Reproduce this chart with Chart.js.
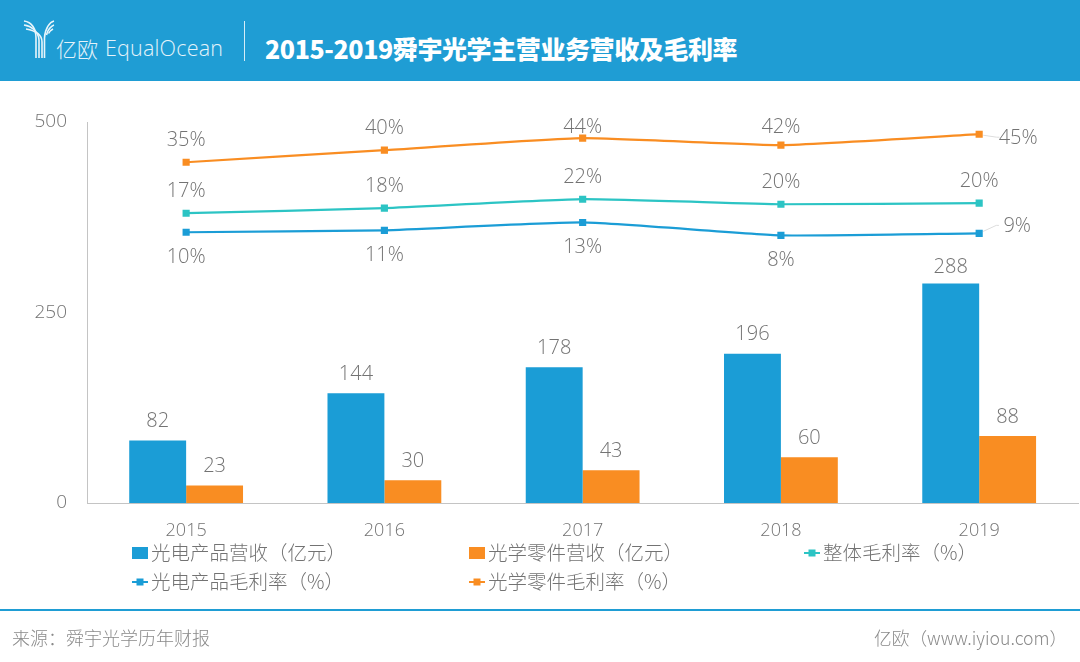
<!DOCTYPE html>
<html>
<head>
<meta charset="utf-8">
<script src="https://cdn.jsdelivr.net/npm/chart.js@4/dist/chart.umd.min.js"></script>
<style>
  html, body { margin: 0; padding: 0; background: #fff; overflow: hidden; }
  #page { position: relative; width: 1080px; height: 662px; overflow: hidden; font-family: "Open Sans", "Noto Sans CJK SC", sans-serif; }
  #band { position: absolute; left: 0; top: 0; width: 1080px; height: 81px; background: #1f9dd4; }
  #logo { position: absolute; left: 0; top: 0; }
  #brand-cn { position: absolute; left: 56px; top: 33px; font: 300 21px/30px "Noto Sans CJK SC"; color: #e4f3fa; }
  #brand-en { position: absolute; left: 105px; top: 32px; font: 300 21.5px/32px "Open Sans"; color: #e4f3fa; letter-spacing: 0.2px; }
  #divider { position: absolute; left: 244px; top: 21px; width: 1px; height: 40px; background: #d5edf8; }
  #title { position: absolute; left: 265px; top: 31px; font: 900 25px/34px "Noto Sans CJK SC"; letter-spacing: -0.4px; color: #fff; white-space: nowrap; }
  #rule { position: absolute; left: 0; top: 609px; width: 1080px; height: 2px; background: #1f9dd4; }
  #source { position: absolute; left: 12px; top: 625px; font: 300 18px/24px "Noto Sans CJK SC"; color: #8a8a8a; }
  #credit { position: absolute; left: 874px; top: 625px; font: 300 17.7px/24px "Noto Sans CJK SC"; color: #8a8a8a; white-space: nowrap; }
  canvas { position: absolute; left: 0; top: 0; }
</style>
</head>
<body>
<div id="page">
  <canvas id="chart" width="1084" height="662"></canvas>
  <div id="band"></div>
  <svg id="logo" width="60" height="81" fill="none" stroke="#e8f5fb" stroke-width="1.6">
    <path d="M24 21 C32 22 36 29 36 38 L36 58"/>
    <path d="M24 25 C31 26 38.5 31 39 40 L39 58"/>
    <path d="M26 29 C32 30 42 33 42 42 L42 58"/>
    <path d="M54 21 C50 22 45 28 44.5 38 L44.5 58"/>
    <path d="M54 25 C51 26 47.5 30 46.5 35"/>
    <path d="M53 29 C51 30 49.5 31 48.5 33.5"/>
  </svg>
  <div id="brand-cn">亿欧</div>
  <div id="brand-en">EqualOcean</div>
  <div id="divider"></div>
  <div id="title">2015-2019舜宇光学主营业务营收及毛利率</div>
  <div id="rule"></div>
  <div id="source">来源：舜宇光学历年财报</div>
  <div id="credit">亿欧（www.iyiou.com）</div>
</div>
<script>
const years = ["2015", "2016", "2017", "2018", "2019"];
const opticalRevenue = [82, 144, 178, 196, 288];
const componentRevenue = [23, 30, 43, 60, 88];
const overallMargin = [16.8, 18.6, 21.8, 20, 20.4];
const opticalMargin = [10, 10.7, 13.5, 8.9, 9.6];
const componentMargin = [35, 39.3, 43.6, 41.1, 45];
const overallMarginLabels = ["17%", "18%", "22%", "20%", "20%"];
const opticalMarginLabels = ["10%", "11%", "13%", "8%", "9%"];
const componentMarginLabels = ["35%", "40%", "44%", "42%", "45%"];
const revenueTicks = [0, 250, 500];

const BLUE = "#1b9dd6";
const ORANGE = "#f98d22";
const TEAL = "#2cc4c4";
const GREY = "#737373";
const FONT = '"Open Sans", "Noto Sans CJK SC", sans-serif';
const LEGEND_FONT = '300 19.5px "Noto Sans CJK SC", sans-serif';

function lineSet(label, data, color, texts, place) {
  return {
    type: "line", label, data, texts, place, yAxisID: "y1",
    borderColor: color, backgroundColor: color, borderWidth: 2.2,
    pointStyle: "rect", pointRadius: 3.5, pointHoverRadius: 3.5, tension: 0.15, order: 0
  };
}

// label offsets from the mark, and the legend slots
const placeAbove = () => [0, -22];
const placeComponent = (i) => [[0, -22], [0, -22], [0, -11], [0, -18], [39, 4]][i];
const placeOptical = (i) => (i === 4 ? [38, -7] : [0, 25]);
const legendSlots = [[132, 553], [469, 553], [804, 553], [132, 582], [469, 582]];

const decorate = {
  id: "decorate",
  afterDatasetsDraw(chart) {
    const ctx = chart.ctx;
    ctx.save();
    ctx.font = "300 20px " + FONT;
    ctx.fillStyle = GREY;
    ctx.textAlign = "center";
    ctx.textBaseline = "middle";
    chart.data.datasets.forEach((ds, d) => {
      chart.getDatasetMeta(d).data.forEach((el, i) => {
        if (ds.type === "bar") {
          // the tallest bar sits closer to its label
          const lift = d === 0 && i === 4 ? 16 : 19;
          ctx.fillText(ds.data[i], el.x, el.y - lift);
          return;
        }
        const [dx, dy] = ds.place(i);
        if (dx) {
          ctx.strokeStyle = "#dddddd";
          ctx.lineWidth = 1;
          ctx.beginPath();
          ctx.moveTo(el.x + 4, el.y - (dy < 0 ? 2 : -1));
          ctx.lineTo(el.x + dx * 0.45, el.y + dy - 1);
          ctx.lineTo(el.x + dx * 0.52, el.y + dy - 1);
          ctx.stroke();
        }
        ctx.fillText(ds.texts[i], el.x + dx, el.y + dy);
      });
    });

    // legend has an uneven layout, so it is drawn here
    ctx.font = LEGEND_FONT;
    ctx.textAlign = "left";
    chart.data.datasets.forEach((ds, d) => {
      const [x, y] = legendSlots[d];
      ctx.fillStyle = ds.backgroundColor;
      if (ds.type === "bar") {
        ctx.fillRect(x, y - 6, 16, 12);
      } else {
        ctx.fillRect(x, y - 1, 16, 2);
        ctx.fillRect(x + 4.5, y - 3.5, 7, 7);
      }
      ctx.fillStyle = GREY;
      ctx.fillText(ds.label, x + 19, y);
    });
    ctx.restore();
  }
};

new Chart(document.getElementById("chart"), {
  data: {
    labels: years,
    datasets: [
      { type: "bar", label: "光电产品营收（亿元）", data: opticalRevenue, backgroundColor: BLUE, yAxisID: "y", order: 1 },
      { type: "bar", label: "光学零件营收（亿元）", data: componentRevenue, backgroundColor: ORANGE, yAxisID: "y", order: 1 },
      lineSet("整体毛利率（%）", overallMargin, TEAL, overallMarginLabels, placeAbove),
      lineSet("光电产品毛利率（%）", opticalMargin, BLUE, opticalMarginLabels, placeOptical),
      lineSet("光学零件毛利率（%）", componentMargin, ORANGE, componentMarginLabels, placeComponent)
    ]
  },
  options: {
    responsive: false,
    animation: false,
    devicePixelRatio: 1,
    layout: { padding: { top: 122, right: 1, bottom: 119, left: 0 } },
    datasets: { bar: { barPercentage: 1, categoryPercentage: 0.574 } },
    plugins: { legend: { display: false }, tooltip: { enabled: false } },
    scales: {
      x: {
        grid: { display: false, drawTicks: false },
        border: { color: "#c4c4c4", width: 1 },
        ticks: { color: GREY, font: { family: FONT, size: 18, weight: 300 }, padding: 17 },
        afterFit(s) { s.height = 40; }
      },
      y: {
        min: 0, max: 500,
        grid: { display: false, drawTicks: false },
        border: { color: "#c4c4c4", width: 1 },
        afterBuildTicks(s) { s.ticks = revenueTicks.map((value) => ({ value })); },
        ticks: { color: GREY, font: { family: FONT, size: 19, weight: 300 }, padding: 20 },
        afterFit(s) { s.width = 87; }
      },
      y1: { display: false, min: -86.64, max: 49.36 }
    }
  },
  plugins: [decorate]
});
</script>
</body>
</html>
